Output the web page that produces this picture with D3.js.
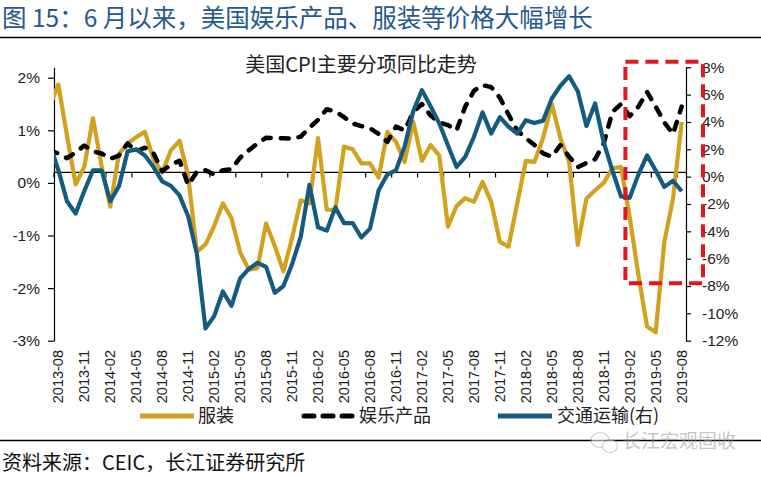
<!DOCTYPE html>
<html><head><meta charset="utf-8">
<script src="https://cdn.jsdelivr.net/npm/d3@7/dist/d3.min.js"></script>
<style>body{margin:0;background:#fff} svg{display:block}</style>
</head><body>
<svg id="chart" width="761" height="477"></svg>
<script>
// ---------------- data ----------------
// first month (2013-07) lies just left of the plot area and is clipped, as in the source chart
const months = ["2013-07",
 "2013-08","2013-09","2013-10","2013-11","2013-12",
 "2014-01","2014-02","2014-03","2014-04","2014-05","2014-06","2014-07","2014-08","2014-09","2014-10","2014-11","2014-12",
 "2015-01","2015-02","2015-03","2015-04","2015-05","2015-06","2015-07","2015-08","2015-09","2015-10","2015-11","2015-12",
 "2016-01","2016-02","2016-03","2016-04","2016-05","2016-06","2016-07","2016-08","2016-09","2016-10","2016-11","2016-12",
 "2017-01","2017-02","2017-03","2017-04","2017-05","2017-06","2017-07","2017-08","2017-09","2017-10","2017-11","2017-12",
 "2018-01","2018-02","2018-03","2018-04","2018-05","2018-06","2018-07","2018-08","2018-09","2018-10","2018-11","2018-12",
 "2019-01","2019-02","2019-03","2019-04","2019-05","2019-06","2019-07","2019-08"];

const tickLabels = ["2013-08","2013-11","2014-02","2014-05","2014-08","2014-11","2015-02","2015-05","2015-08",
 "2015-11","2016-02","2016-05","2016-08","2016-11","2017-02","2017-05","2017-08","2017-11","2018-02","2018-05",
 "2018-08","2018-11","2019-02","2019-05","2019-08"];

// 服装 (left axis, %)
const apparel = [1.45,
 1.87,0.9,-0.03,0.31,1.23,0.32,-0.45,0.55,0.75,0.87,0.97,0.45,0.2,0.62,0.8,0.13,-1.31,
 -1.17,-0.82,-0.39,-0.67,-1.32,-1.65,-1.62,-0.77,-1.2,-1.68,-1.05,-0.33,-0.39,0.85,-0.51,-0.51,0.69,0.64,0.37,
 0.37,0.1,0.97,0.78,0.4,1.16,0.42,0.72,0.52,-0.83,-0.44,-0.29,-0.36,0.02,-0.36,-1.12,-1.21,-0.4,0.42,0.4,
 0.86,1.5,0.85,0.4,-1.18,-0.3,-0.14,0.0,0.28,0.3,-0.65,-1.75,-2.73,-2.84,-1.12,-0.3,1.16];

// 娱乐产品 (left axis, %)
const entertainment = [0.62,
 0.56,0.47,0.58,0.71,0.6,0.56,0.46,0.52,0.75,0.6,0.67,0.56,0.22,0.35,0.42,-0.04,0.21,
 0.24,0.16,0.24,0.26,0.48,0.62,0.75,0.86,0.85,0.85,0.84,0.88,1.05,1.2,1.4,1.36,1.25,1.13,1.08,
 1.04,0.93,0.78,1.07,1.0,1.35,1.5,1.28,1.15,1.1,1.0,1.45,1.75,1.86,1.82,1.62,1.3,1.0,0.85,0.72,
 0.56,0.5,0.72,0.5,0.3,0.38,0.45,0.75,1.35,1.5,1.27,1.45,1.73,1.45,1.15,0.93,1.45];

// 交通运输 (right axis, %)
const transport = [2.4,
 0.5,-1.8,-2.7,-1.05,0.47,0.47,-1.8,-0.7,1.85,2.0,1.55,0.7,-0.35,-0.67,-1.37,-2.9,-5.65,
 -11.1,-10.2,-8.4,-9.45,-7.45,-6.75,-6.3,-6.6,-8.5,-8.0,-6.4,-4.4,-0.6,-3.7,-3.95,-2.25,-3.4,-3.4,-4.45,
 -3.8,-1.0,0.15,0.47,2.2,4.8,6.33,5.15,3.9,2.3,0.71,1.45,2.9,4.7,3.15,4.35,3.65,3.15,4.13,3.92,
 4.1,5.72,6.65,7.35,6.25,3.7,5.35,2.5,0.45,-1.45,-1.55,0.15,1.56,0.45,-0.75,-0.3,-1.07];

const leftTicks = [-3,-2,-1,0,1,2];
const rightTicks = [-12,-10,-8,-6,-4,-2,0,2,4,6,8];
const seriesNames = ["服装","娱乐产品","交通运输(右)"];

// ---------------- drawing ----------------
const svg = d3.select("#chart");
const CJK = "'Noto Sans CJK SC','Noto Sans',sans-serif";
const NUM = "'Liberation Sans',Arial,sans-serif";
const GOLD = "#d2a11e", BLUE = "#135b80", BLACK = "#000", RED = "#e3161d";

const L = 54, R = 686, T = 67.2, B = 340.7;
const monthStep = (R - L) / 73;
const x = d3.scalePoint().domain(months)
  .range([L + monthStep / 2 - monthStep, R - monthStep / 2]).padding(0);
const yL = d3.scaleLinear().domain([-3, 2.2]).range([B, T]);
const yR = d3.scaleLinear().domain([-12, 8]).range([B, T + 0.1]);

svg.append("defs").append("clipPath").attr("id", "plotclip")
  .append("rect").attr("x", L).attr("y", 0).attr("width", R - L).attr("height", 477);

// title
svg.append("text").attr("x", 2).attr("y", 27)
  .attr("font-family", CJK).attr("font-size", 24.5).attr("fill", "#245a8d")
  .text("图 15：6 月以来，美国娱乐产品、服装等价格大幅增长");
svg.append("line").attr("x1", 0).attr("x2", 761).attr("y1", 37.5).attr("y2", 37.5)
  .attr("stroke", "#000").attr("stroke-width", 1.5);

// chart title
svg.append("text").attr("x", 361).attr("y", 72).attr("text-anchor", "middle")
  .attr("font-family", CJK).attr("font-size", 20).attr("fill", "#222")
  .text("美国CPI主要分项同比走势");

// left axis
const gL = svg.append("g").attr("transform", `translate(${L},0)`)
  .call(d3.axisLeft(yL).tickValues(leftTicks).tickFormat(d => d + "%").tickSize(6).tickSizeOuter(0).tickPadding(8));
// right axis
const gR = svg.append("g").attr("transform", `translate(${R},0)`)
  .call(d3.axisRight(yR).tickValues(rightTicks).tickFormat(d => d + "%").tickSize(5).tickSizeOuter(0).tickPadding(11));
[gL, gR].forEach(g => {
  g.select(".domain").attr("stroke", "#000").attr("stroke-width", 1.2);
  g.selectAll(".tick line").attr("stroke", "#000").attr("stroke-width", 1.2);
  g.selectAll(".tick text").attr("font-family", NUM).attr("font-size", 15.5).attr("fill", "#222");
});

// horizontal category axis
const axisY = yL(0.2);
svg.append("line").attr("x1", L).attr("x2", R).attr("y1", axisY).attr("y2", axisY)
  .attr("stroke", "#000").attr("stroke-width", 1.2);
const step = x.step();
svg.append("g").selectAll("line").data(tickLabels).join("line")
  .attr("x1", d => x(d) - step / 2).attr("x2", d => x(d) - step / 2)
  .attr("y1", axisY).attr("y2", axisY + 5)
  .attr("stroke", "#000").attr("stroke-width", 1.2);

// x labels
svg.append("g").selectAll("text").data(tickLabels).join("text")
  .attr("transform", d => `translate(${x(d)},350) rotate(-90)`)
  .attr("text-anchor", "end").attr("dy", "0.35em")
  .attr("font-family", NUM).attr("font-size", 14.5).attr("fill", "#222")
  .text(d => d);

// series
const lineL = d3.line().x((d, i) => x(months[i])).y(d => yL(d));
const lineR = d3.line().x((d, i) => x(months[i])).y(d => yR(d));
const plot = svg.append("g").attr("clip-path", "url(#plotclip)");

plot.append("path").attr("d", lineL(apparel)).attr("fill", "none")
  .attr("stroke", GOLD).attr("stroke-width", 4.2).attr("stroke-linejoin", "round");
plot.append("path").attr("d", lineL(entertainment)).attr("fill", "none")
  .attr("stroke", BLACK).attr("stroke-width", 4.5).attr("stroke-linejoin", "round")
  .attr("stroke-linecap", "round").attr("stroke-dasharray", "8,10");
plot.append("path").attr("d", lineR(transport)).attr("fill", "none")
  .attr("stroke", BLUE).attr("stroke-width", 4.2).attr("stroke-linejoin", "round");

// red highlight box
const boxL = x("2019-01") + step / 2, boxR = R + 17;
svg.append("rect").attr("x", boxL).attr("y", yR(8.4))
  .attr("width", boxR - boxL).attr("height", yR(-7.8) - yR(8.4))
  .attr("fill", "none").attr("stroke", RED).attr("stroke-width", 4)
  .attr("stroke-dasharray", "13,7");

// legend
const legY = 416;
const leg = svg.append("g");
const legItems = [
  {name: seriesNames[0], x0: 140, x1: 194, color: GOLD, dash: null, cap: "butt", tx: 198},
  {name: seriesNames[1], x0: 304, x1: 352, color: BLACK, dash: "10,9", cap: "round", tx: 359},
  {name: seriesNames[2], x0: 498, x1: 552, color: BLUE, dash: null, cap: "butt", tx: 557}
];
legItems.forEach(it => {
  leg.append("line").attr("x1", it.x0).attr("x2", it.x1).attr("y1", legY).attr("y2", legY)
    .attr("stroke", it.color).attr("stroke-width", 5)
    .attr("stroke-linecap", it.cap)
    .attr("stroke-dasharray", it.dash);
  leg.append("text").attr("x", it.tx).attr("y", legY).attr("dy", "0.36em")
    .attr("font-family", CJK).attr("font-size", 18).attr("fill", "#222").text(it.name);
});

// bottom separator + source
svg.append("line").attr("x1", 0).attr("x2", 761).attr("y1", 440.5).attr("y2", 440.5)
  .attr("stroke", "#000").attr("stroke-width", 1.5);
svg.append("text").attr("x", 2).attr("y", 470)
  .attr("font-family", CJK).attr("font-size", 20).attr("fill", "#111")
  .text("资料来源：CEIC，长江证券研究所");

// watermark
const wm = svg.append("g").attr("opacity", 0.55);
wm.append("ellipse").attr("cx", 600).attr("cy", 440).attr("rx", 9).attr("ry", 7.5)
  .attr("fill", "#fff").attr("stroke", "#aaa").attr("stroke-width", 1.2);
wm.append("ellipse").attr("cx", 610).attr("cy", 446).attr("rx", 7.5).attr("ry", 6.5)
  .attr("fill", "#fff").attr("stroke", "#aaa").attr("stroke-width", 1.2);
wm.append("text").attr("x", 622).attr("y", 441).attr("dy", "0.36em")
  .attr("font-family", CJK).attr("font-size", 19).attr("fill", "#999").text("长江宏观固收");
</script>
</body></html>
